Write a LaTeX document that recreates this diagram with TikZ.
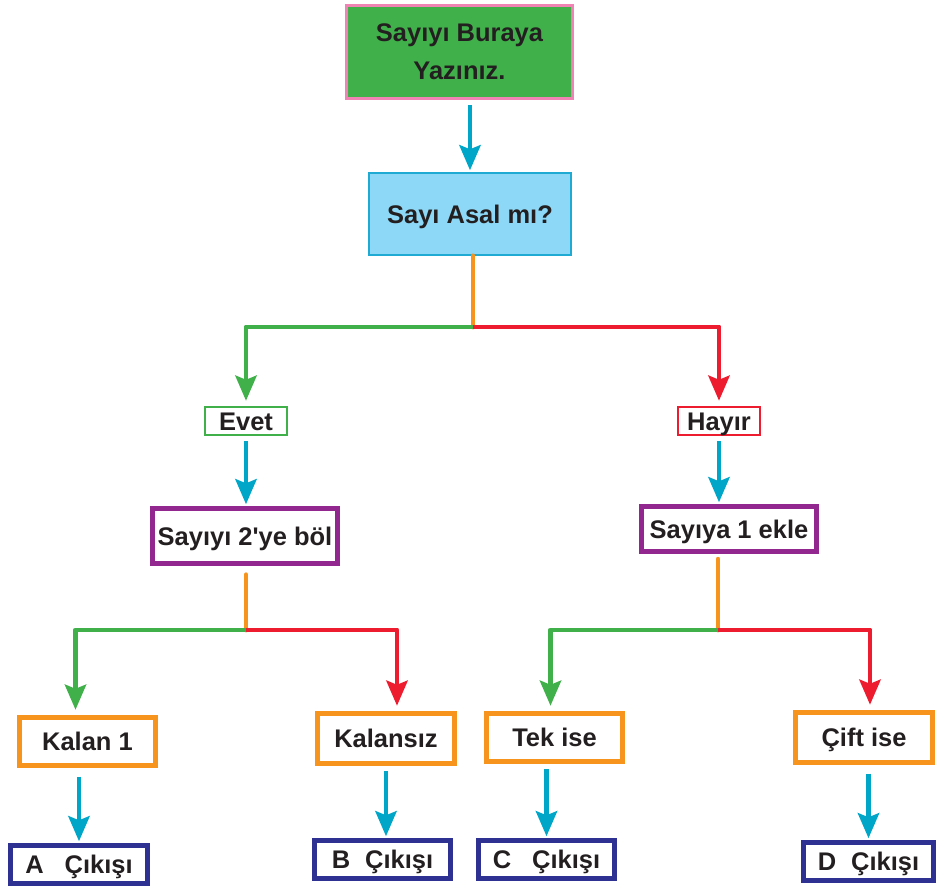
\documentclass[tikz,border=0pt]{standalone}
\usepackage{fontspec}
\setmainfont{Liberation Sans}[Ligatures=TeXOff]
\usepackage{tikz}
\usetikzlibrary{arrows.meta, positioning}
\definecolor{mytext}{RGB}{35,31,32}
\definecolor{mygreen}{RGB}{64,176,74}
\definecolor{mypink}{RGB}{240,130,180}
\definecolor{mysky}{RGB}{141,216,246}
\definecolor{myskyline}{RGB}{30,170,210}
\definecolor{mycyan}{RGB}{0,166,200}
\definecolor{myorange}{RGB}{247,148,30}
\definecolor{myred}{RGB}{237,28,46}
\definecolor{mypurple}{RGB}{146,39,143}
\definecolor{myblue}{RGB}{46,49,146}
\tikzset{
  box/.style={rectangle, draw, fill=white, align=center, inner sep=0pt,
    font=\fontsize{14.5}{17}\selectfont\bfseries, text=mytext,
    text height=12pt, text depth=1.6pt},
  startbox/.style={rectangle, draw=mypink, fill=mygreen, line width=1.7pt,
    align=center, inner sep=0pt, text=mytext,
    font=\fontsize{14.5}{21.5}\selectfont\bfseries},
  askbox/.style={box, draw=myskyline, fill=mysky, line width=1.1pt},
  yesbox/.style={box, draw=mygreen, line width=1.1pt},
  nobox/.style={box, draw=myred, line width=1.1pt},
  stepbox/.style={box, draw=mypurple, line width=2.8pt},
  casebox/.style={box, draw=myorange, line width=2.8pt},
  outbox/.style={box, draw=myblue, line width=2.8pt},
  tip/.style={-{Stealth[length=0.5cm, width=0.42cm, inset=0.08cm]}},
  arrow/.style={tip, line width=2.8pt, color=mycyan, shorten <=3pt, shorten >=1pt},
  greenarrow/.style={tip, line width=2.8pt, color=mygreen, line join=round, shorten >=3pt},
  redarrow/.style={tip, line width=2.8pt, color=myred, line join=round, shorten >=3pt},
  line/.style={line width=2.8pt, color=myorange, line cap=round}
}
\begin{document}
\begin{tikzpicture}[x=0.02cm, y=-0.02cm]
  \useasboundingbox (0,0) rectangle (939,888);

  % top of the chart
  \node[startbox, minimum width=4.52cm, minimum height=1.86cm] (start) at (459.5,52) {Sayıyı Buraya\\Yazınız.};
  \node[askbox, minimum width=4.04cm, minimum height=1.64cm] (asal) at (470,214) {Sayı Asal mı?};
  \draw[arrow] (start.south -| asal.north) -- (asal.north);

  % first split
  \coordinate (j1) at (473,327);
  \node[yesbox, minimum width=1.64cm, minimum height=0.56cm] (evet) at (246,421) {Evet};
  \node[nobox, minimum width=1.64cm, minimum height=0.56cm] (hayir) at (719,421) {Hayır};
  \draw[line] (asal.south -| j1) -- (j1);
  \draw[greenarrow] (j1) -| (evet.north);
  \draw[redarrow] (j1) -| (hayir.north);

  \node[stepbox, minimum width=3.7cm, minimum height=1.1cm] (bol) at (245,536) {Sayıyı 2'ye böl};
  \node[stepbox, minimum width=3.5cm, minimum height=0.9cm] (ekle) at (729,529) {Sayıya 1 ekle};
  \draw[arrow] (evet.south) -- (evet.south |- bol.north);
  \draw[arrow] (hayir.south) -- (hayir.south |- ekle.north);

  % left split
  \coordinate (j2) at (246,630);
  \node[casebox, minimum width=2.72cm, minimum height=0.96cm] (kalan1) at (87.5,741.5) {Kalan 1};
  \node[casebox, minimum width=2.74cm, minimum height=1.0cm] (kalansiz) at (386,738.5) {Kalansız};
  \draw[line, shorten <=5pt] (bol.south -| j2) -- (j2);
  \draw[greenarrow] (j2) -| ([xshift=-0.24cm]kalan1.north);
  \draw[redarrow] (j2) -| ([xshift=0.22cm]kalansiz.north);

  % right split
  \coordinate (j3) at (718,630);
  \node[casebox, minimum width=2.72cm, minimum height=0.96cm] (tek) at (554.5,737.5) {Tek ise};
  \node[casebox, minimum width=2.74cm, minimum height=1.0cm] (cift) at (864,737.5) {Çift ise};
  \draw[line, shorten <=3pt] (ekle.south -| j3) -- (j3);
  \draw[greenarrow] (j3) -| ([xshift=-0.08cm]tek.north);
  \draw[redarrow] (j3) -| ([xshift=0.12cm]cift.north);

  % outputs
  \node[outbox, minimum width=2.74cm, minimum height=0.76cm] (a) at (79,864.5) {A\hspace{0.42cm}Çıkışı};
  \node[outbox, minimum width=2.72cm, minimum height=0.76cm] (b) at (382.5,859.5) {B\hspace{0.3cm}Çıkışı};
  \node[outbox, minimum width=2.72cm, minimum height=0.76cm] (c) at (546.5,859.5) {C\hspace{0.42cm}Çıkışı};
  \node[outbox, minimum width=2.6cm, minimum height=0.76cm] (d) at (868.5,861.5) {D\hspace{0.3cm}Çıkışı};
  \draw[arrow, shorten <=5pt] (a.north |- kalan1.south) -- (a.north);
  \draw[arrow] (kalansiz.south) -- (kalansiz.south |- b.north);
  \draw[arrow] (tek.south -| c.north) -- (c.north);
  \draw[arrow, shorten <=5pt] (cift.south -| d.north) -- (d.north);
\end{tikzpicture}
\end{document}
